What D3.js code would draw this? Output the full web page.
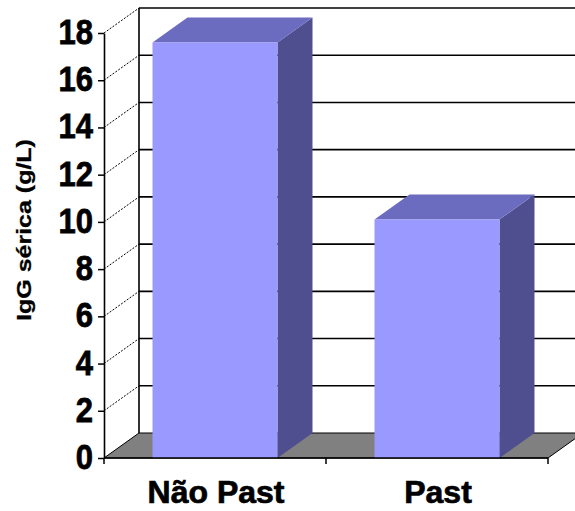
<!DOCTYPE html>
<html>
<head>
<meta charset="utf-8">
<script src="https://cdn.jsdelivr.net/npm/d3@7"></script>
<style>
  body { margin: 0; background: #fff; }
  text { font-family: "Liberation Sans", Arial, sans-serif; font-weight: bold; fill: #000; }
</style>
</head>
<body>
<div id="chart"></div>
<script>
// values
const categories = ['Não Past', 'Past'];
const igg = [17.6, 10.1];
const yTicks = [0, 2, 4, 6, 8, 10, 12, 14, 16, 18];
const yTitle = 'IgG sérica (g/L)';

const W = 575, H = 511;
const depth = {dx: 35, dy: -25};   // 3d offset of the back wall
const stretch = 1.13;              // the original picture is stretched vertically

const colFront = '#9999ff', colTop = '#6b6bc0', colSide = '#4f4f8f', colFloor = '#808080';

const svg = d3.select('#chart').append('svg')
  .attr('width', W).attr('height', H);

const y = d3.scaleLinear().domain([0, 18]).range([458, 33]);
const xCat = d3.scaleBand().domain(categories).range([104, 548]).padding(0);
const barW = xCat.bandwidth() * 0.563;

const x0 = xCat.range()[0], x1 = xCat.range()[1];
const yb = v => y(v) + depth.dy;

// left wall + back wall lines
const walls = svg.append('g');
walls.selectAll('.grid')
  .data(yTicks.filter(t => t > 0))
  .enter().append('line')
  .attr('x1', x0 + depth.dx).attr('x2', x1 + depth.dx)
  .attr('y1', d => yb(d)).attr('y2', d => yb(d))
  .attr('stroke', '#000').attr('stroke-width', 1.6);

walls.append('line')
  .attr('x1', x0 + depth.dx).attr('x2', x0 + depth.dx)
  .attr('y1', yb(18)).attr('y2', yb(0))
  .attr('stroke', '#000').attr('stroke-width', 1.6);

walls.selectAll('.diag')
  .data(yTicks.filter(t => t > 0))
  .enter().append('line')
  .attr('x1', x0).attr('y1', d => y(d))
  .attr('x2', x0 + depth.dx).attr('y2', d => yb(d))
  .attr('stroke', '#000').attr('stroke-width', 1)
  .attr('stroke-dasharray', '2,1.5');

// floor
svg.append('path')
  .attr('d', `M${x0},${y(0)} L${x1},${y(0)} L${x1 + depth.dx},${yb(0)} L${x0 + depth.dx},${yb(0)} Z`)
  .attr('fill', colFloor)
  .attr('stroke', '#000').attr('stroke-width', 1);

// bars
const bars = svg.selectAll('.bar')
  .data(categories.map((c, i) => ({c, v: igg[i]})))
  .enter().append('g').attr('class', 'bar');

bars.append('path') // side
  .attr('d', d => {
    const xr = xCat(d.c) + (xCat.bandwidth() + barW) / 2;
    return `M${xr},${y(0)} L${xr},${y(d.v)} L${xr + depth.dx},${yb(d.v)} L${xr + depth.dx},${yb(0)} Z`;
  })
  .attr('fill', colSide);

bars.append('path') // top
  .attr('d', d => {
    const xl = xCat(d.c) + (xCat.bandwidth() - barW) / 2;
    const xr = xl + barW;
    return `M${xl},${y(d.v)} L${xr},${y(d.v)} L${xr + depth.dx},${yb(d.v)} L${xl + depth.dx},${yb(d.v)} Z`;
  })
  .attr('fill', colTop);

bars.append('rect') // front
  .attr('x', d => xCat(d.c) + (xCat.bandwidth() - barW) / 2)
  .attr('y', d => y(d.v))
  .attr('width', barW)
  .attr('height', d => y(0) - y(d.v))
  .attr('fill', colFront);

// front value axis
const yAxis = svg.append('g')
  .attr('transform', `translate(${x0},0)`)
  .call(d3.axisLeft(y).tickValues(yTicks).tickSize(6).tickPadding(5).tickSizeOuter(0));
yAxis.select('.domain').attr('stroke', '#000').attr('stroke-width', 1.6);
yAxis.selectAll('.tick line').attr('stroke', '#000').attr('stroke-width', 1.5);
yAxis.selectAll('.tick text')
  .attr('font-size', 31)
  .attr('font-family', '"Liberation Sans", Arial, sans-serif')
  .attr('font-weight', 'bold')
  .attr('stroke', '#000').attr('stroke-width', 0.7)
  .attr('transform', `scale(1,${stretch})`)
  .attr('dy', '0.3em');

// category axis
svg.append('line')
  .attr('x1', x0).attr('x2', x1)
  .attr('y1', y(0)).attr('y2', y(0))
  .attr('stroke', '#000').attr('stroke-width', 1.6);

const bounds = categories.map(c => xCat(c)).concat([x1]);
svg.selectAll('.xtick')
  .data(bounds)
  .enter().append('line')
  .attr('x1', d => d).attr('x2', d => d)
  .attr('y1', y(0)).attr('y2', y(0) + 6)
  .attr('stroke', '#000').attr('stroke-width', 1.5);

svg.selectAll('.xlabel')
  .data(categories)
  .enter().append('text')
  .attr('transform', d => `translate(${xCat(d) + xCat.bandwidth() / 2 + 1},${y(0) + 45})`)
  .attr('text-anchor', 'middle')
  .attr('font-size', 32)
  .attr('stroke', '#000').attr('stroke-width', 0.7)
  .text(d => d);

// axis title
svg.append('text')
  .attr('transform', `translate(31,230) rotate(-90) scale(${1.19},1)`)
  .attr('text-anchor', 'middle')
  .attr('font-size', 21)
  .attr('stroke', '#000').attr('stroke-width', 0.3)
  .text(yTitle);
</script>
</body>
</html>
